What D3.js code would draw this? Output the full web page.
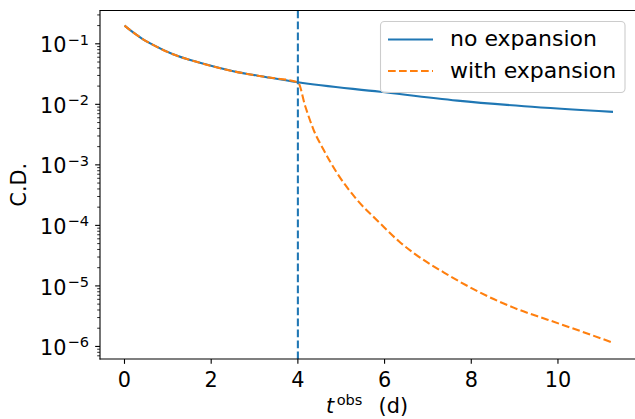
<!DOCTYPE html>
<html>
<head>
<meta charset="utf-8">
<script src="https://cdn.jsdelivr.net/npm/d3@7/dist/d3.min.js"></script>
<style>
  html, body { margin: 0; padding: 0; background: #fff; }
  svg { display: block; }
  text { font-family: "DejaVu Sans", sans-serif; fill: #000; }
</style>
</head>
<body>
<svg id="chart" width="635" height="419"></svg>
<script>
// ---- data ----
const tNoExp = [0, 0.2, 0.42, 0.66, 1.12, 1.74, 2.51, 3.28, 4.0, 5.9, 7.68, 9.22, 11.27];
const cdNoExp = [0.200, 0.154, 0.120, 0.096, 0.0672, 0.0485, 0.0352, 0.0281, 0.0231, 0.0161, 0.0115, 0.0093, 0.0075];

const tWithExp = [0, 0.2, 0.42, 0.66, 1.12, 1.74, 2.51, 3.28, 4.0, 4.17, 4.36, 4.59, 4.9, 5.36, 5.9, 6.33, 6.67, 7.45, 8.22, 8.99, 9.76, 10.53, 11.27];
const cdWithExp = [0.200, 0.154, 0.120, 0.096, 0.0672, 0.0485, 0.0352, 0.0281, 0.0231, 0.0093, 0.00383, 0.00179, 0.00074, 0.000267, 0.000108, 5.46e-5, 3.5e-5, 1.54e-5, 7.66e-6, 4.33e-6, 2.77e-6, 1.78e-6, 1.15e-6];

const tExpansion = 4;
const xTicks = [0, 2, 4, 6, 8, 10];
const yTickExps = [-1, -2, -3, -4, -5, -6];
const seriesNames = ["no expansion", "with expansion"];

(function () {
// ---- layout ----
const svg = d3.select("#chart");
const pL = 100, pR = 637.5, pT = 10.5, pB = 359;
const fs = 20.8;
const legFs = 22;
const blue = "#1f77b4", orange = "#ff7f0e";
const lw = 2.08;
const dash = "7.7,3.3";

const x = d3.scaleLinear().domain([-0.565, 11.835]).range([pL, pR]);
const y = d3.scaleLog().domain([6.2e-7, 0.355]).range([pB, pT]);

const plot = svg.append("g");
plot.append("clipPath").attr("id", "clip")
  .append("rect").attr("x", pL).attr("y", pT).attr("width", pR - pL).attr("height", pB - pT);

const line = d3.line().x(d => x(d[0])).y(d => y(d[1])).curve(d3.curveMonotoneX);

const g = plot.append("g").attr("clip-path", "url(#clip)");
g.append("path")
  .datum(tNoExp.map((t, i) => [t, cdNoExp[i]]))
  .attr("d", line).attr("fill", "none").attr("stroke", blue).attr("stroke-width", lw);
g.append("path")
  .datum(tWithExp.map((t, i) => [t, cdWithExp[i]]))
  .attr("d", line).attr("fill", "none").attr("stroke", orange).attr("stroke-width", lw)
  .attr("stroke-dasharray", dash);
g.append("line")
  .attr("x1", x(tExpansion)).attr("x2", x(tExpansion))
  .attr("y1", pT).attr("y2", pB)
  .attr("stroke", blue).attr("stroke-width", lw).attr("stroke-dasharray", dash);

// ---- axes ----
const majorLen = 4.86, minorLen = 2.8;
const xAxis = svg.append("g");
xTicks.forEach(t => {
  xAxis.append("line").attr("x1", x(t)).attr("x2", x(t))
    .attr("y1", pB).attr("y2", pB + majorLen)
    .attr("stroke", "#000").attr("stroke-width", 1.1);
  xAxis.append("text").attr("x", x(t)).attr("y", 386.5)
    .attr("text-anchor", "middle").style("font-size", fs + "px").text(t);
});
const yAxis = svg.append("g");
const [ymin, ymax] = y.domain();
for (let e = -7; e <= 0; e++) {
  for (let m = 1; m <= 9; m++) {
    const v = m * Math.pow(10, e);
    if (v < ymin || v > ymax) continue;
    const py = y(v);
    yAxis.append("line").attr("x1", pL).attr("x2", pL - (m === 1 ? majorLen : minorLen))
      .attr("y1", py).attr("y2", py)
      .attr("stroke", "#000").attr("stroke-width", m === 1 ? 1.1 : 0.83);
  }
}
yTickExps.forEach(e => {
  const py = y(Math.pow(10, e));
  const tx = yAxis.append("text").attr("x", 89).attr("y", py + 8.6)
    .attr("text-anchor", "end").style("font-size", fs + "px");
  tx.append("tspan").text("10");
  tx.append("tspan").attr("dx", 1).attr("dy", -7.6).style("font-size", (fs * 0.7) + "px").text("\u2212" + Math.abs(e));
});

// spines
svg.append("line").attr("x1", pL).attr("x2", pL).attr("y1", pT).attr("y2", pB + 0.5)
  .attr("stroke", "#000").attr("stroke-width", 1.1);
svg.append("line").attr("x1", pL - 0.5).attr("x2", pR).attr("y1", pB).attr("y2", pB)
  .attr("stroke", "#000").attr("stroke-width", 1.1);
svg.append("line").attr("x1", pL - 0.5).attr("x2", pR).attr("y1", pT).attr("y2", pT)
  .attr("stroke", "#000").attr("stroke-width", 1.1);

// axis labels
svg.append("text").attr("transform", "translate(25.5," + ((pT + pB) / 2) + ") rotate(-90)")
  .attr("text-anchor", "middle").style("font-size", fs + "px").text("C.D.");

const xl = svg.append("text").attr("x", 367).attr("y", 413)
  .attr("text-anchor", "middle").style("font-size", fs + "px");
xl.append("tspan").style("font-style", "italic").text("t");
xl.append("tspan").attr("dy", -8).attr("dx", 2.5).style("font-size", (fs * 0.7) + "px").text("obs");
xl.append("tspan").attr("dy", 8).attr("dx", 3).text("\u00a0\u00a0(d)");

// legend
const lg = svg.append("g");
lg.append("rect").attr("x", 380.5).attr("y", 21.5).attr("width", 244.5).attr("height", 71)
  .attr("rx", 4).attr("fill", "#fff").attr("fill-opacity", 0.8)
  .attr("stroke", "#cccccc").attr("stroke-width", 1.1);
const legendRows = [
  { name: seriesNames[0], color: blue, dash: null, y: 39.5 },
  { name: seriesNames[1], color: orange, dash: dash, y: 71 }
];
legendRows.forEach(r => {
  const l = lg.append("line").attr("x1", 388).attr("x2", 433)
    .attr("y1", r.y).attr("y2", r.y).attr("stroke", r.color).attr("stroke-width", lw);
  if (r.dash) l.attr("stroke-dasharray", dash);
  lg.append("text").attr("x", 450).attr("y", r.y + 6.5).style("font-size", legFs + "px").text(r.name);
});
})();
</script>
</body>
</html>
